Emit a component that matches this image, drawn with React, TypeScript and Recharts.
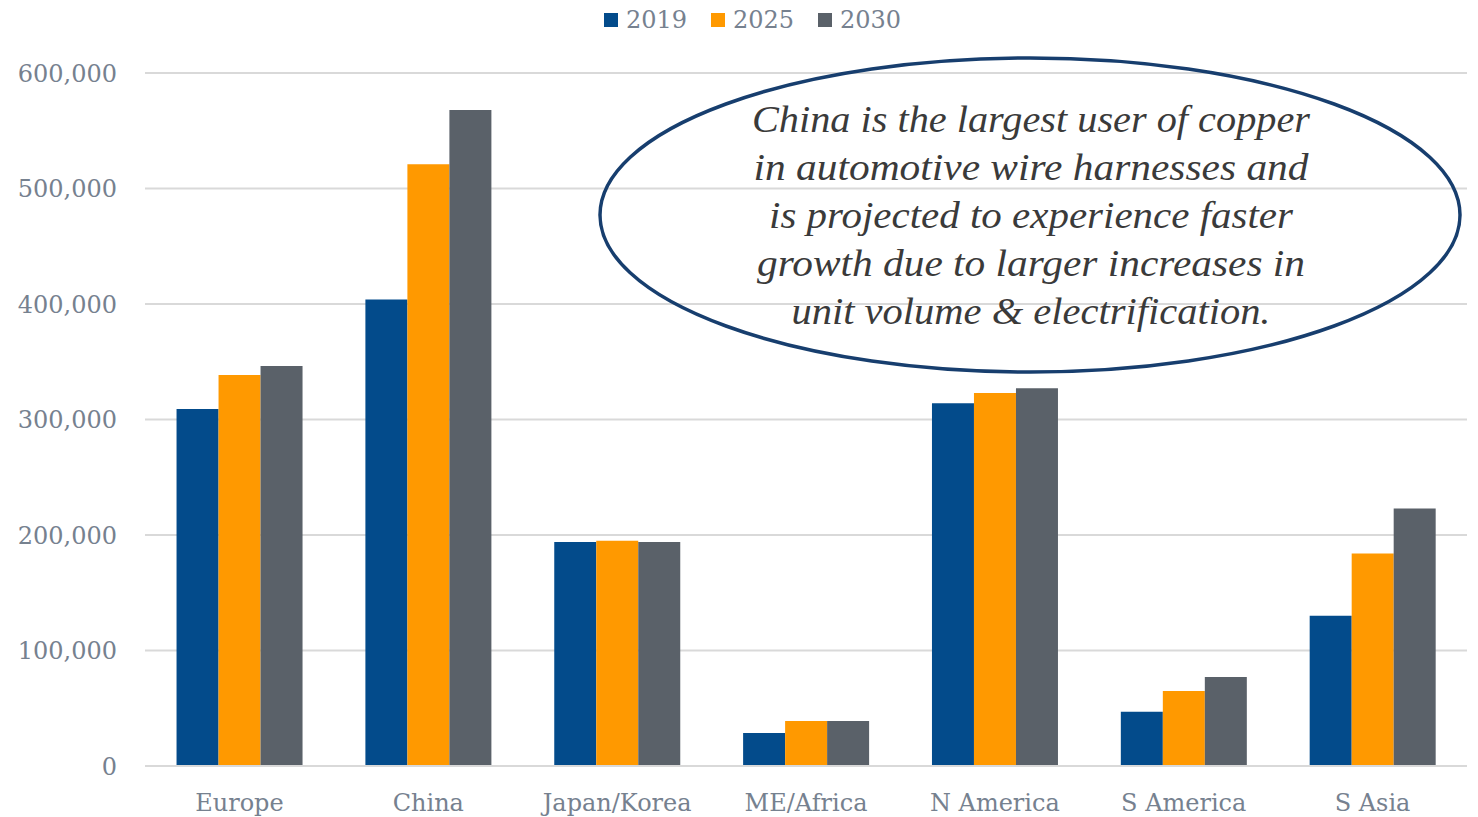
import React from 'react';
import { BarChart, Bar, XAxis, YAxis, CartesianGrid, Legend } from 'recharts';

const categories = ['Europe', 'China', 'Japan/Korea', 'ME/Africa', 'N America', 'S America', 'S Asia'];
const values2019 = [309000, 404000, 194000, 28500, 314000, 47000, 130000];
const values2025 = [338500, 521000, 195000, 39000, 323000, 65000, 184000];
const values2030 = [346300, 568000, 194000, 39000, 327000, 77000, 223000];
const seriesNames = ['2019', '2025', '2030'];
const seriesKeys = ['y2019', 'y2025', 'y2030'];
const seriesColors = ['#034B8B', '#FF9900', '#5A6169'];
const yTicks = [0, 100000, 200000, 300000, 400000, 500000, 600000];
const calloutLines = [
  'China is the largest user of copper',
  'in automotive wire harnesses and',
  'is projected to experience faster',
  'growth due to larger increases in',
  'unit volume & electrification.',
];
const calloutWidths = [558, 555, 524, 548, 479];

const data = categories.map((c, i) => ({
  category: c,
  y2019: values2019[i],
  y2025: values2025[i],
  y2030: values2030[i],
}));

const FONT = '"DejaVu Serif", serif';
const TICK = '#76818F';
const GRID = '#D9D9D9';

const fmt = (v: number) => v.toLocaleString('en-US');

const renderLegend = () => (
  <div
    style={{
      display: 'flex',
      justifyContent: 'center',
      alignItems: 'flex-start',
      height: 73,
      paddingTop: 6,
      paddingLeft: 38,
      boxSizing: 'border-box',
      fontFamily: FONT,
      fontSize: 24,
      color: TICK,
      lineHeight: '28px',
    }}
  >
    {seriesNames.map((n, i) => (
      <span key={n} style={{ display: 'flex', alignItems: 'center', marginRight: i < seriesNames.length - 1 ? 24 : 0 }}>
        <span style={{ width: 14, height: 14, background: seriesColors[i], marginRight: 8, display: 'inline-block' }} />
        {n}
      </span>
    ))}
  </div>
);

export default function App() {
  return (
    <div style={{ position: 'absolute', left: 0, top: 0, width: 1478, height: 817, background: '#fff' }}>
      <BarChart
        width={1478}
        height={817}
        data={data}
        margin={{ top: 0, right: 11, bottom: 0, left: 0 }}
        barCategoryGap="16.7%"
        barGap={0}
        style={{ overflow: 'visible' }}
      >
        <CartesianGrid vertical={false} stroke={GRID} strokeWidth={2} />
        <XAxis
          dataKey="category"
          height={51}
          interval={0}
          tickLine={false}
          tickSize={0}
          tickMargin={28}
          axisLine={{ stroke: GRID, strokeWidth: 2 }}
          tick={{ fill: TICK, fontSize: 24, fontFamily: FONT }}
        />
        <YAxis
          width={145}
          domain={[0, 600000]}
          ticks={yTicks}
          tickFormatter={fmt}
          axisLine={false}
          tickLine={false}
          tickSize={0}
          tickMargin={28}
          tick={{ fill: TICK, fontSize: 24, fontFamily: FONT }}
        />
        <Legend verticalAlign="top" content={renderLegend} />
        {seriesKeys.map((k, i) => (
          <Bar key={k} dataKey={k} name={seriesNames[i]} fill={seriesColors[i]} isAnimationActive={false} />
        ))}
      </BarChart>
      <svg
        width={1478}
        height={817}
        style={{ position: 'absolute', left: 0, top: 0, pointerEvents: 'none' }}
      >
        <ellipse cx={1030} cy={215} rx={430} ry={157} fill="none" stroke="#173E6E" strokeWidth={3.5} />
        {calloutLines.map((t, i) => (
          <text
            key={i}
            x={1031}
            y={132 + i * 48}
            textAnchor="middle"
            textLength={calloutWidths[i]}
            lengthAdjust="spacingAndGlyphs"
            fontFamily='"Liberation Serif", serif'
            fontStyle="italic"
            fontSize={37}
            fill="#3A3A3A"
          >
            {t}
          </text>
        ))}
      </svg>
    </div>
  );
}
